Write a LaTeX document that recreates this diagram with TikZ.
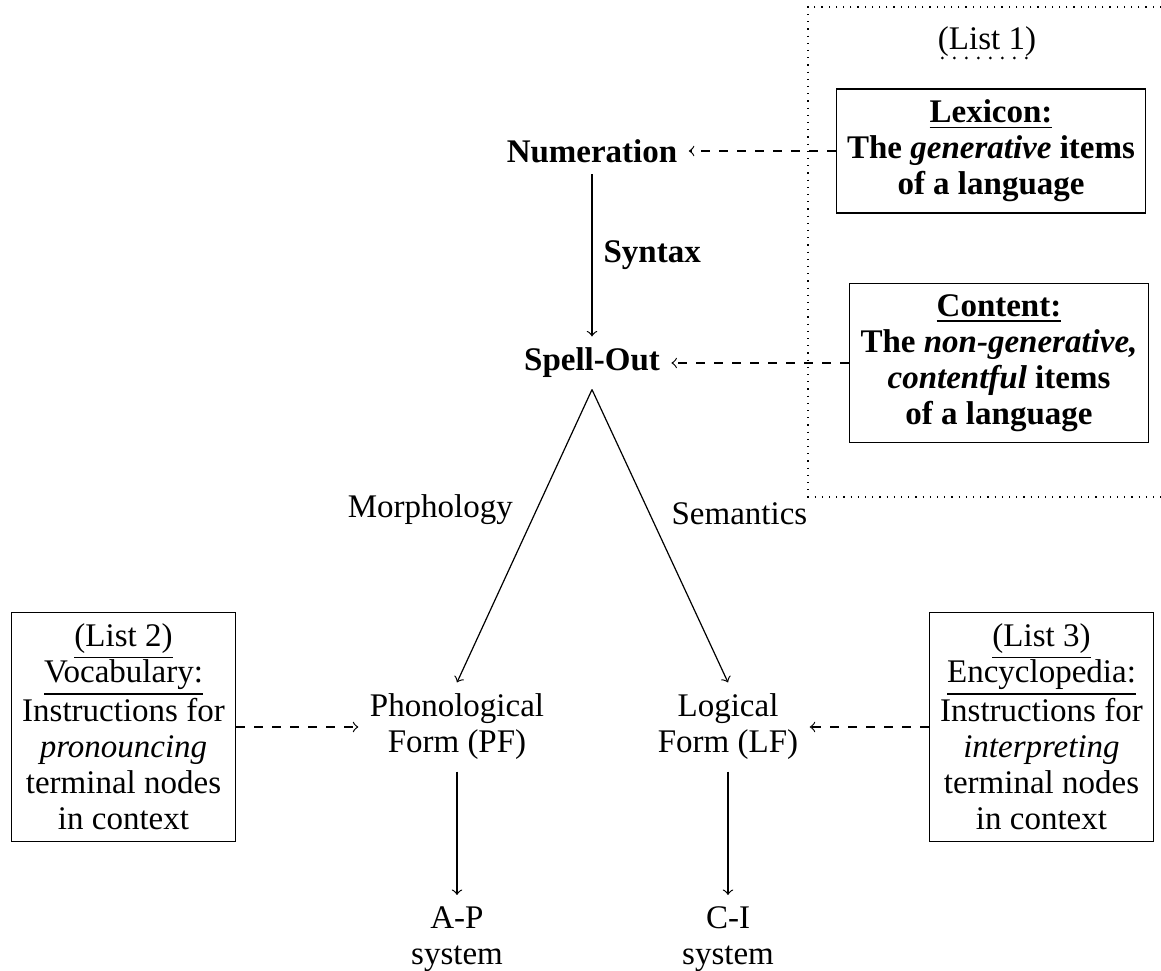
\documentclass[tikz,border=0pt]{standalone}
\usepackage{fontspec}
% a serif with Times widths, enlarged to the set width of a book face
\setmainfont[Scale=1.1]{Liberation Serif}
\usetikzlibrary{calc}
\begin{document}
\begin{tikzpicture}[x=0.33333pt, y=-0.33333pt,
  every node/.style={align=center},
  listbox/.style={draw, align=center},
  flow/.style={->},
  feed/.style={->, dashed},
  listrule/.style={line cap=round, line width=1pt, dash pattern=on 0pt off 4pt},
]
\useasboundingbox (0,0) rectangle (1161,971);

% the dotted region holding List 1
\draw[dotted] (1161,7) -- (808,7) -- (808,497) -- (1161,497);
\node[anchor=base, inner sep=0pt] (l1) at (987,50) {(List 1)};
\draw[listrule] ($(l1.base west)+(5,8)$) -- ($(l1.base east)+(0,8)$);

% main derivation
\node[font=\bfseries] (num) at (592,151) {Numeration};
\node[font=\bfseries] (spell) at (592,363) {Spell-Out};
\node (pf) at (457,727) {Phonological\\Form (PF)};
\node (lf) at (728,727) {Logical\\Form (LF)};
\node[anchor=north] (ap) at (457,895) {A-P\\system};
\node[anchor=north] (ci) at (728,895) {C-I\\system};

% the lists
\node[listbox, font=\bfseries] (lex) at (991,151)
  {\underline{Lexicon:}\\The \textit{generative} items\\of a language};
\node[listbox, font=\bfseries] (cont) at (999,363)
  {\underline{Content:}\\The \textit{non-generative,}\\\textit{contentful} items\\of a language};
\node[listbox] (voc) at (123.5,727)
  {\underline{(List 2)}\\\underline{Vocabulary:}\\Instructions for\\\textit{pronouncing}\\terminal nodes\\in context};
\node[listbox] (enc) at (1041.5,727)
  {\underline{(List 3)}\\\underline{Encyclopedia:}\\Instructions for\\\textit{interpreting}\\terminal nodes\\in context};

% connectors
\draw[flow] (num) -- node[right]{\textbf{Syntax}} (spell);
\draw[flow] (spell.south) -- node[midway, above left]{Morphology} (pf.north);
\draw[flow] (spell.south) -- node[midway, above right]{Semantics} (lf.north);
\draw[flow] (pf) -- (ap);
\draw[flow] (lf) -- (ci);
\draw[feed] (lex) -- (num);
\draw[feed] (cont) -- (spell);
\draw[feed] (voc) -- (pf);
\draw[feed] (enc) -- (lf);
\end{tikzpicture}
\end{document}
